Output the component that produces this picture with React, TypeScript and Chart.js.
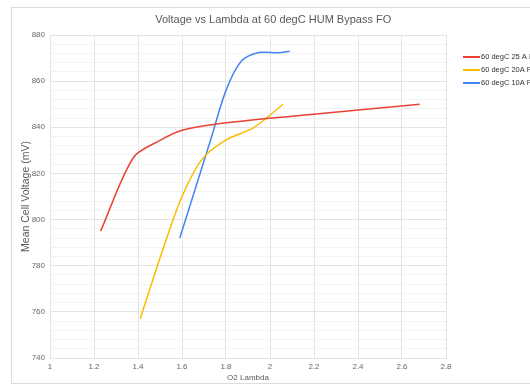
import React, { useEffect, useRef } from "react";
import { Chart, registerables } from "chart.js";

Chart.register(...registerables);

const chartTitle = "Voltage vs Lambda at 60 degC HUM Bypass FO";
const xAxisTitle = "O2 Lambda";
const yAxisTitle = "Mean Cell Voltage (mV)";

const seriesNames = ["60 degC 25 A FO", "60 degC 20A FO", "60 degC 10A FO"];
const seriesColors = ["#EA4335", "#FBBC04", "#4285F4"];

const lambda25A = [1.23, 1.38, 1.5, 1.6, 1.75, 2.1, 2.68];
const voltage25A = [795, 827, 834.3, 838.7, 841.3, 844.8, 850];

const lambda20A = [1.41, 1.52, 1.6, 1.69, 1.8, 1.92, 1.99, 2.06];
const voltage20A = [757, 789, 810, 826, 834.5, 839.5, 844.5, 850];

const lambda10A = [1.59, 1.73, 1.8, 1.87, 1.95, 2.04, 2.09];
const voltage10A = [792, 834.5, 856, 868.7, 872.4, 872.3, 873];

const xMin = 1;
const xMax = 2.8;
const xStep = 0.2;
const yMin = 740;
const yMax = 880;
const yMinorStep = 4;
const yMajorStep = 20;

const FONT = "'Liberation Sans', Arial, sans-serif";

function toPoints(xs: number[], ys: number[]) {
  return xs.map((x, i) => ({ x, y: ys[i] }));
}

// outer chart frame (extends past the right edge of the window)
const FRAME = { left: 11.5, top: 7.5, right: 535, bottom: 383.5 };

const framePlugin = {
  id: "frame",
  beforeDraw(chart: any) {
    const { ctx, width, height } = chart;
    ctx.save();
    ctx.fillStyle = "#ffffff";
    ctx.fillRect(0, 0, width, height);
    ctx.strokeStyle = "#dcdcdc";
    ctx.lineWidth = 1;
    ctx.strokeRect(FRAME.left, FRAME.top, FRAME.right - FRAME.left, FRAME.bottom - FRAME.top);
    ctx.restore();
  },
  afterDraw(chart: any) {
    const { ctx } = chart;
    ctx.save();
    ctx.font = `11px ${FONT}`;
    ctx.fillStyle = "#595959";
    ctx.textAlign = "center";
    ctx.textBaseline = "middle";
    ctx.fillText(chartTitle, (FRAME.left + FRAME.right) / 2, 20);
    ctx.restore();
  },
};

const legendPlugin = {
  id: "sideLegend",
  afterDraw(chart: any) {
    const { ctx } = chart;
    ctx.save();
    ctx.font = `7.5px ${FONT}`;
    ctx.textBaseline = "middle";
    chart.data.datasets.forEach((ds: any, i: number) => {
      const y = 57 + i * 13;
      ctx.strokeStyle = ds.borderColor;
      ctx.lineWidth = 2;
      ctx.beginPath();
      ctx.moveTo(463, y);
      ctx.lineTo(480, y);
      ctx.stroke();
      ctx.fillStyle = "#333333";
      ctx.fillText(ds.label, 481, y);
    });
    ctx.restore();
  },
};

export default function App() {
  const canvasRef = useRef<HTMLCanvasElement | null>(null);

  useEffect(() => {
    if (!canvasRef.current) return;
    const seriesX = [lambda25A, lambda20A, lambda10A];
    const seriesY = [voltage25A, voltage20A, voltage10A];
    const chart = new Chart(canvasRef.current, {
      type: "line",
      data: {
        datasets: seriesNames.map((name, i) => ({
          label: name,
          data: toPoints(seriesX[i], seriesY[i]),
          borderColor: seriesColors[i],
          backgroundColor: seriesColors[i],
          borderWidth: 1.5,
          pointRadius: 0,
          pointHoverRadius: 0,
          tension: 0.3,
          fill: false,
        })),
      },
      options: {
        animation: false,
        responsive: false,
        devicePixelRatio: 1,
        layout: { padding: { left: 0, right: 84, top: 35, bottom: 0 } },
        plugins: {
          legend: { display: false },
          tooltip: { enabled: false },
          title: { display: false },
        },
        scales: {
          x: {
            type: "linear",
            min: xMin,
            max: xMax,
            afterFit: (s: any) => {
              s.height = 27;
            },
            ticks: {
              stepSize: xStep,
              padding: 4,
              color: "#666666",
              font: { family: FONT, size: 8 },
              callback: (v: any) => String(Math.round(Number(v) * 10) / 10),
            },
            grid: { color: "#e4e4e4", drawTicks: false, lineWidth: 1 },
            border: { color: "#e4e4e4" },
            title: {
              display: true,
              text: xAxisTitle,
              color: "#595959",
              font: { family: FONT, size: 8 },
              padding: { top: 0, bottom: 2 },
            },
          },
          y: {
            type: "linear",
            min: yMin,
            max: yMax,
            afterFit: (s: any) => {
              s.width = 50;
            },
            ticks: {
              stepSize: yMinorStep,
              autoSkip: false,
              padding: 5,
              color: "#666666",
              font: { family: FONT, size: 8 },
              callback: (v: any) => (Number(v) % yMajorStep === 0 ? String(v) : ""),
            },
            grid: {
              drawTicks: false,
              lineWidth: 1,
              color: (c: any) =>
                c.tick && c.tick.value % yMajorStep === 0 ? "#e4e4e4" : "#f3f3f3",
            },
            border: { color: "#e4e4e4" },
            title: {
              display: true,
              text: yAxisTitle,
              color: "#595959",
              font: { family: FONT, size: 10.5 },
              padding: { top: 19.5, bottom: 0 },
            },
          },
        },
      },
      plugins: [framePlugin, legendPlugin],
    });
    return () => chart.destroy();
  }, []);

  return (
    <div
      style={{
        position: "fixed",
        left: 0,
        top: 0,
        width: 530,
        height: 385,
        overflow: "hidden",
        background: "#fff",
      }}
    >
      <canvas ref={canvasRef} width={530} height={385} style={{ display: "block" }} />
    </div>
  );
}
